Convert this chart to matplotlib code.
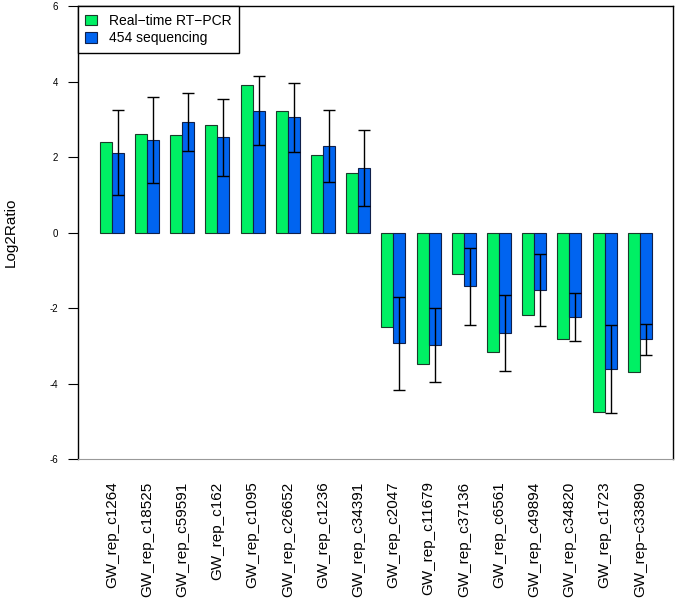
import numpy as np
import matplotlib.pyplot as plt

plt.rcParams['font.family'] = ['Liberation Sans', 'DejaVu Sans']

# gene labels and values
genes = ['GW_rep_c1264', 'GW_rep_c18525', 'GW_rep_c59591', 'GW_rep_c162',
         'GW_rep_c1095', 'GW_rep_c26652', 'GW_rep_c1236', 'GW_rep_c34391',
         'GW_rep_c2047', 'GW_rep_c11679', 'GW_rep_c37136', 'GW_rep_c6561',
         'GW_rep_c49894', 'GW_rep_c34820', 'GW_rep_c1723', 'GW_rep\u2212c33890']
rt_pcr = [2.39, 2.61, 2.58, 2.84, 3.91, 3.23, 2.06, 1.58,
          -2.50, -3.47, -1.10, -3.17, -2.18, -2.81, -4.76, -3.70]
seq454 = [2.12, 2.45, 2.94, 2.53, 3.23, 3.05, 2.30, 1.71,
          -2.93, -2.97, -1.42, -2.66, -1.52, -2.24, -3.61, -2.82]
seq_err = [1.12, 1.14, 0.77, 1.02, 0.92, 0.91, 0.95, 1.00,
           1.23, 0.98, 1.02, 1.00, 0.96, 0.64, 1.16, 0.41]
yticks = [-6, -4, -2, 0, 2, 4, 6]

green = '#00F064'
blue = '#0064F0'

fig = plt.figure(figsize=(6.77, 6.09), dpi=100)
ax = fig.add_axes([0.115, 0.246, 0.879, 0.744])

x = np.arange(len(genes))
w = 0.34
ax.bar(x - w / 2, rt_pcr, w, color=green, edgecolor='#1a3a2a', linewidth=0.8,
       label='Real\u2212time RT\u2212PCR')
ax.bar(x + w / 2, seq454, w, color=blue, edgecolor='#10204a', linewidth=0.8,
       label='454 sequencing')
ax.errorbar(x + w / 2, seq454, yerr=seq_err, fmt='none', ecolor='black',
            elinewidth=1, capsize=4.2, capthick=1)

ax.set_xlim(-0.966, 15.94)
ax.set_ylim(-6, 6)
ax.set_yticks(yticks)
ax.set_yticklabels([str(t) for t in yticks], fontsize=7)
ax.tick_params(axis='y', length=7, pad=7, width=0.8)
ax.set_xticks(x)
ax.set_xticklabels(genes, rotation=90, fontsize=11, va='top')
ax.tick_params(axis='x', length=0, pad=16)
ax.set_ylabel('Log2Ratio', fontsize=11, labelpad=23)

for s in ['top', 'right', 'left']:
    ax.spines[s].set_color('black')
    ax.spines[s].set_linewidth(1)
ax.spines['bottom'].set_color('#999999')

leg = ax.legend(loc='upper left', borderaxespad=0, fancybox=False,
                edgecolor='black', framealpha=1, fontsize=10,
                handlelength=0.8, handleheight=0.8, handletextpad=0.9,
                borderpad=0.55, labelspacing=0.25)
leg.get_frame().set_linewidth(1)

fig.savefig('out.png', dpi=100)
